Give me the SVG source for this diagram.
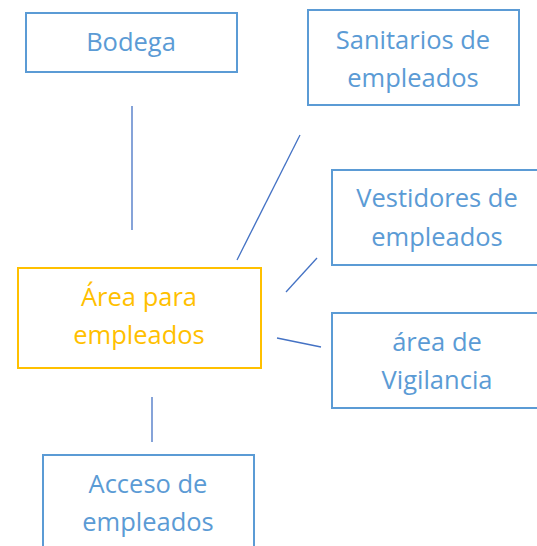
<svg xmlns="http://www.w3.org/2000/svg" width="537" height="546" viewBox="0 0 537 546">
<style>
.box{fill:#fff;stroke:#5B9BD5;stroke-width:2}
.ybox{fill:#fff;stroke:#FFC000;stroke-width:2}
.t{font-family:"Open Sans","Noto Sans",sans-serif;font-size:25.5px;fill:#5B9BD5;text-anchor:middle}
.yt{fill:#FFC000}
.c line{stroke:#4472C4;stroke-width:1.3}
</style>
<rect width="537" height="546" fill="#fff"/>
<g class="c" id="connectors">
<line x1="132" y1="106" x2="132" y2="230"/>
<line x1="300" y1="135" x2="237" y2="260"/>
<line x1="317" y1="258" x2="286" y2="292"/>
<line x1="277" y1="338" x2="321" y2="347"/>
<line x1="152" y1="397" x2="152" y2="442"/>
</g>
<g id="bodega"><rect class="box" x="26" y="13" width="211" height="59"/><text class="t" x="131" y="51">Bodega</text></g>
<g id="sanitarios"><rect class="box" x="308" y="10" width="211" height="95"/><text class="t" x="413" y="49">Sanitarios de</text><text class="t" x="413" y="87">empleados</text></g>
<g id="vestidores"><rect class="box" x="332" y="170" width="214" height="95"/><text class="t" x="437" y="207">Vestidores de</text><text class="t" x="437" y="246">empleados</text></g>
<g id="area"><rect class="ybox" x="18" y="268" width="243" height="100"/><text class="t yt" x="139" y="306">Área para</text><text class="t yt" x="139" y="344">empleados</text></g>
<g id="vigilancia"><rect class="box" x="332" y="313" width="214" height="95"/><text class="t" x="437" y="351">área de</text><text class="t" x="437" y="389">Vigilancia</text></g>
<g id="acceso"><rect class="box" x="43" y="455" width="211" height="100"/><text class="t" x="148" y="493">Acceso de</text><text class="t" x="148" y="531">empleados</text></g>
</svg>
